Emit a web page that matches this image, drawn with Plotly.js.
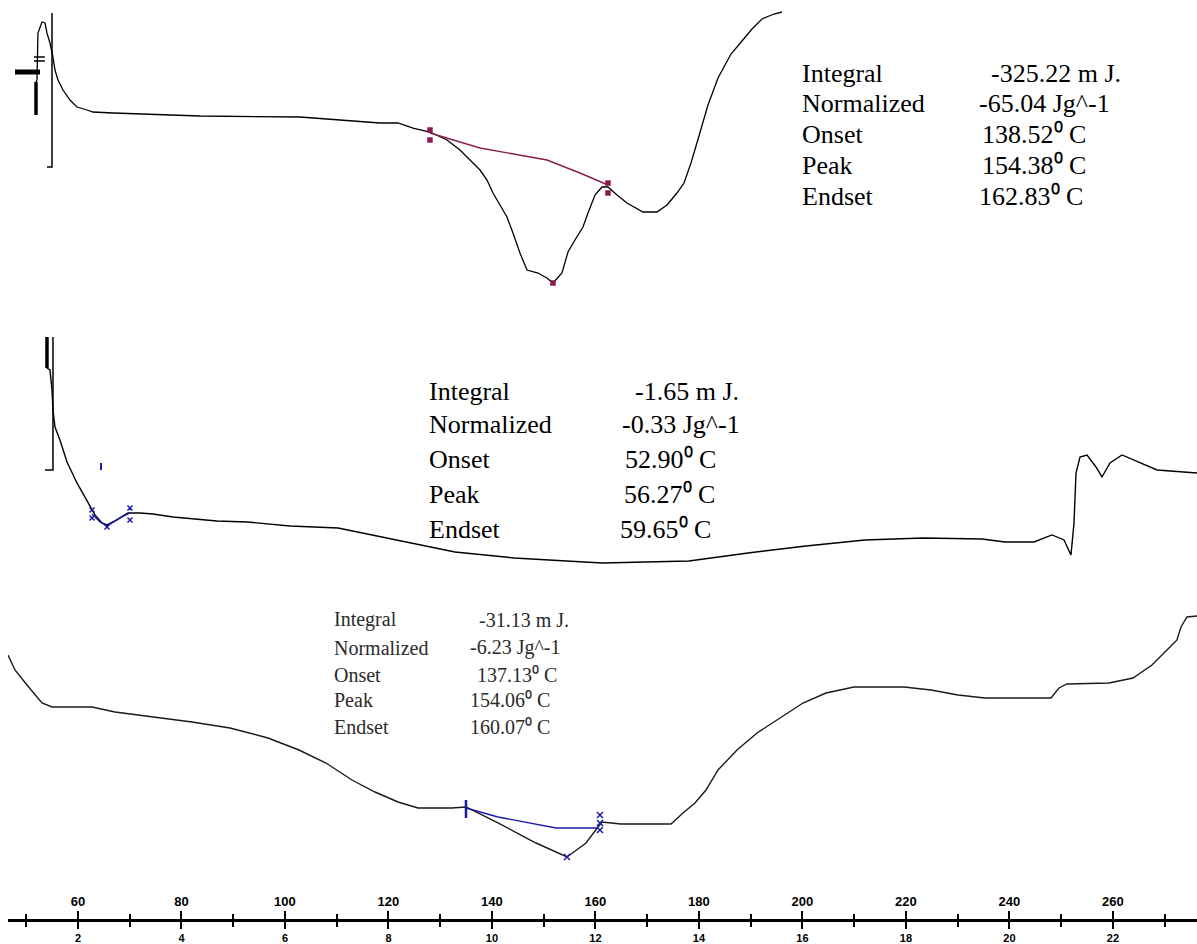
<!DOCTYPE html>
<html>
<head>
<meta charset="utf-8">
<script src="https://cdn.plot.ly/plotly-3.0.1.min.js"></script>
<style>html,body{margin:0;padding:0;background:#fff;}#chart{width:1197px;height:944px;}</style>
</head>
<body>
<div id="chart"></div>
<script>
// ---- Axis ticks ----
const tempTicks = [60, 80, 100, 120, 140, 160, 180, 200, 220, 240, 260];
const tempTickText = ["60", "80", "100", "120", "140", "160", "180", "200", "220", "240", "260"];
const timeTickText = ["2", "4", "6", "8", "10", "12", "14", "16", "18", "20", "22"];

// ---- Top thermogram (temperature °C, heat flow arb. units) ----
const topTemp = [51.89, 51.89, 52.08, 52.27, 53.05, 53.63, 54.01, 54.59, 55.17, 55.56, 56.14, 57.10, 58.46, 59.81, 61.74, 62.90, 66.77, 79.71, 83.58, 102.90, 118.36, 121.84, 124.74, 128.02, 131.31, 133.82, 135.75, 137.69, 139.04, 140.20, 141.55, 142.90, 144.06, 145.41, 146.77, 148.89, 150.63, 151.79, 153.53, 154.69, 156.04, 157.59, 158.56, 159.91, 161.26, 162.42, 164.16, 166.09, 169.18, 171.89, 173.82, 175.75, 177.11, 178.46, 180.00, 181.74, 183.68, 186.19, 188.31, 190.25, 192.18, 194.50, 196.04];
const topHeat = [18.5, 21.8, 22.0, 26.7, 27.8, 27.7, 26.7, 25.7, 24.3, 23.0, 22.0, 21.0, 20.0, 19.3, 19.0, 18.8, 18.7, 18.5, 18.4, 18.3, 17.7, 17.7, 17.2, 16.8, 16.0, 15.0, 14.0, 13.0, 12.0, 10.7, 9.5, 8.3, 6.7, 4.7, 3.0, 2.7, 2.2, 1.7, 2.7, 4.8, 6.0, 7.3, 8.7, 10.5, 11.3, 11.3, 10.5, 9.7, 8.8, 8.8, 9.5, 10.7, 11.7, 13.7, 16.4, 19.5, 22.2, 24.6, 25.9, 27.1, 28.1, 28.6, 28.8];
const topBaseTemp = [128.02, 137.69, 150.63, 157.01, 162.42];
const topBaseHeat = [16.7, 15.2, 14.0, 12.7, 11.5];
const topMarkTemp = [128.02, 128.02, 162.42, 162.42, 151.79];
const topMarkHeat = [17.0, 16.0, 11.7, 10.7, 1.7];
// left-side frame pieces of the top trace
const topFrameTemp = [54.98, 54.98, 54.01];
const topFrameHeat = [28.7, 13.3, 13.3];
const topBarTemp = [51.89, 51.89];
const topBarHeat = [21.8, 18.5];
const topHBarTemp = [47.83, 52.66];
const topHBarHeat = [22.8, 22.8];
const topEqTemp = [51.5, 53.6, null, 51.5, 53.6];
const topEqHeat = [24.3, 24.3, null, 23.9, 23.9];

// ---- Middle thermogram ----
const midTemp = [54.01, 54.01, 54.59, 54.98, 55.17, 55.56, 56.52, 57.88, 59.81, 61.74, 63.29, 64.64, 65.61, 67.15, 68.51, 69.66, 71.98, 74.50, 78.36, 82.23, 86.86, 92.66, 100.97, 110.25, 121.65, 132.85, 144.26, 161.26, 178.07, 189.47, 200.68, 212.08, 223.29, 234.69, 239.14, 244.74, 248.22, 250.54, 251.89, 252.47, 252.86, 253.63, 254.98, 256.72, 257.88, 259.43, 261.75, 265.22, 268.51, 276.24];
const midHeat = [24.3, 21.2, 21.0, 19.0, 17.0, 15.3, 14.0, 11.8, 9.7, 8.0, 6.5, 5.7, 5.5, 5.9, 6.3, 6.7, 6.7, 6.6, 6.3, 6.1, 5.9, 5.8, 5.4, 5.2, 4.0, 2.8, 2.2, 1.7, 1.9, 2.7, 3.4, 4.0, 4.2, 4.1, 3.8, 3.8, 4.5, 4.0, 2.5, 5.7, 10.7, 12.3, 12.5, 11.3, 10.3, 11.7, 12.5, 11.7, 11.0, 10.7];
const midFrameTemp = [55.17, 55.17, 53.63];
const midFrameHeat = [24.3, 11.0, 11.0];
const midBarTemp = [54.01, 54.01];
const midBarHeat = [24.3, 21.2];
const midBaseTemp = [62.71, 64.26, 65.61, 67.15, 68.51, 70.05];
const midBaseHeat = [6.6, 5.8, 5.4, 5.9, 6.3, 6.7];
const midMarkTemp = [62.71, 62.71, 65.61, 70.05, 70.05];
const midMarkHeat = [7.0, 6.2, 5.3, 7.2, 6.0];
const midTickTemp = [64.45, 64.45];
const midTickHeat = [11.7, 11.0];

// ---- Bottom thermogram ----
const botTemp = [46.48, 47.83, 50.15, 53.05, 54.98, 62.71, 67.15, 74.50, 82.03, 89.38, 96.72, 102.71, 107.93, 112.95, 117.40, 121.84, 125.70, 132.27, 134.98, 141.16, 148.51, 154.50, 158.17, 160.49, 161.26, 164.93, 174.60, 176.91, 179.23, 181.36, 183.68, 187.35, 191.22, 195.66, 200.10, 204.55, 209.96, 219.62, 224.84, 230.05, 235.27, 248.03, 249.57, 251.12, 259.23, 263.87, 267.54, 270.44, 272.37, 273.14, 274.30, 276.24];
const botHeat = [26.5, 25.0, 23.5, 21.7, 21.3, 21.3, 20.8, 20.3, 19.8, 19.2, 18.2, 17.0, 15.7, 14.0, 12.8, 11.8, 11.2, 11.2, 11.3, 9.7, 7.7, 6.3, 7.7, 9.3, 9.8, 9.6, 9.6, 10.7, 11.7, 13.0, 15.0, 17.0, 18.7, 20.2, 21.7, 22.7, 23.3, 23.3, 23.0, 22.5, 22.2, 22.2, 23.2, 23.6, 23.7, 24.2, 25.5, 27.0, 28.0, 29.3, 30.3, 30.4];
const botBaseTemp = [134.98, 141.16, 152.37, 160.49];
const botBaseHeat = [11.2, 10.3, 9.2, 9.2];
const botTickTemp = [134.98, 134.98];
const botTickHeat = [12.0, 10.2];
const botMarkTemp = [160.87, 160.87, 160.87, 154.5];
const botMarkHeat = [10.5, 9.7, 9.0, 6.3];

// ---- Result tables ----
const rowLabels = ["Integral", "Normalized", "Onset", "Peak", "Endset"];
const topValues = ["-325.22 m J.", "-65.04 Jg^-1", "138.52\u2070 C", "154.38\u2070 C", "162.83\u2070 C"];
const midValues = ["-1.65 m J.", "-0.33 Jg^-1", "52.90\u2070 C", "56.27\u2070 C", "59.65\u2070 C"];
const botValues = ["-31.13 m J.", "-6.23 Jg^-1", "137.13\u2070 C", "154.06\u2070 C", "160.07\u2070 C"];

const BLACK = "#000000", PURPLE = "#8b1c4f", BLUE = "#1a1aa6";

function line(x, y, yaxis, color, width) {
  return {x: x, y: y, xaxis: "x", yaxis: yaxis, type: "scatter", mode: "lines",
          line: {color: color, width: width}, hoverinfo: "skip", showlegend: false, connectgaps: false};
}
function marks(x, y, yaxis, color, symbol, size) {
  return {x: x, y: y, xaxis: "x", yaxis: yaxis, type: "scatter", mode: "markers",
          marker: {color: color, symbol: symbol, size: size, line: {color: color, width: 1.5}},
          hoverinfo: "skip", showlegend: false};
}

const traces = [
  line(topTemp, topHeat, "y", BLACK, 1.3),
  line(topFrameTemp, topFrameHeat, "y", BLACK, 1.5),
  line(topBarTemp, topBarHeat, "y", BLACK, 3.5),
  line(topHBarTemp, topHBarHeat, "y", BLACK, 5),
  line(topEqTemp, topEqHeat, "y", BLACK, 1.5),
  line(topBaseTemp, topBaseHeat, "y", PURPLE, 1.4),
  marks(topMarkTemp, topMarkHeat, "y", PURPLE, "square", 4),

  line(midTemp, midHeat, "y2", BLACK, 1.4),
  line(midFrameTemp, midFrameHeat, "y2", BLACK, 1.5),
  line(midBarTemp, midBarHeat, "y2", BLACK, 3.5),
  line(midBaseTemp, midBaseHeat, "y2", BLUE, 1.4),
  marks(midMarkTemp, midMarkHeat, "y2", BLUE, "x-thin", 5),
  line(midTickTemp, midTickHeat, "y2", BLUE, 2),

  line(botTemp, botHeat, "y3", "#1a1a1a", 1.4),
  line(botBaseTemp, botBaseHeat, "y3", BLUE, 1.4),
  line(botTickTemp, botTickHeat, "y3", BLUE, 2.5),
  marks(botMarkTemp, botMarkHeat, "y3", BLUE, "x-thin", 6),

  // carrier for the temperature axis
  {x: tempTicks, y: tempTicks.map(() => null), xaxis: "x2", yaxis: "y3", type: "scatter",
   mode: "lines", hoverinfo: "skip", showlegend: false}
];

const annotations = [];
function table(values, yref, heats, labelX, valueXs, size, color) {
  rowLabels.forEach((lab, i) => {
    annotations.push({x: labelX, y: heats[i], xref: "x", yref: yref, text: lab, showarrow: false,
      xanchor: "left", yanchor: "middle", font: {family: "Liberation Serif, Times New Roman, serif", size: size, color: color}});
    annotations.push({x: valueXs[i], y: heats[i], xref: "x", yref: yref, text: values[i], showarrow: false,
      xanchor: "left", yanchor: "middle", font: {family: "Liberation Serif, Times New Roman, serif", size: size, color: color}});
  });
}
table(topValues, "y", [22.7, 19.7, 16.6, 13.5, 10.4], 199.5, [236.0, 233.7, 234.3, 234.3, 233.7], 26, BLACK);
table(midValues, "y2", [18.8, 15.5, 12.0, 8.5, 5.0], 127.4, [167.2, 164.7, 165.3, 165.1, 164.4], 26, BLACK);
table(botValues, "y3", [30.0, 27.2, 24.5, 22.0, 19.3], 109.1, [137.1, 135.4, 136.7, 135.4, 135.4], 20, "#2a2a2a");

const xrange = [46.48, 276.24];
const layout = {
  width: 1197, height: 944,
  margin: {l: 8, r: 0, t: 0, b: 24, pad: 0},
  paper_bgcolor: "#ffffff", plot_bgcolor: "#ffffff",
  showlegend: false,
  xaxis: {
    range: xrange, anchor: "y3", showgrid: false, zeroline: false,
    showline: true, linecolor: BLACK, linewidth: 2,
    tickmode: "array", tickvals: tempTicks, ticktext: timeTickText,
    ticks: "outside", ticklen: 7, tickwidth: 2, tickcolor: BLACK,
    ticklabelstandoff: 0,
    tickfont: {family: "Liberation Sans, Arial, sans-serif", size: 11, color: BLACK, weight: "bold"},
    minor: {tickmode: "linear", tick0: 50, dtick: 10, ticks: "outside", ticklen: 5, tickwidth: 2, tickcolor: BLACK},
    fixedrange: true
  },
  xaxis2: {
    range: xrange, overlaying: "x", anchor: "free", position: 0, side: "top",
    showgrid: false, zeroline: false,
    showline: true, linecolor: BLACK, linewidth: 2,
    tickmode: "array", tickvals: tempTicks, ticktext: tempTickText,
    ticks: "outside", ticklen: 8, tickwidth: 2, tickcolor: BLACK,
    tickfont: {family: "Liberation Sans, Arial, sans-serif", size: 13, color: BLACK, weight: "bold"},
    minor: {tickmode: "linear", tick0: 50, dtick: 10, ticks: "outside", ticklen: 5, tickwidth: 2, tickcolor: BLACK},
    fixedrange: true
  },
  yaxis: {domain: [0.6739, 1], range: [0, 30], visible: false, fixedrange: true},
  yaxis2: {domain: [0.3696, 0.6522], range: [0, 26], visible: false, fixedrange: true},
  yaxis3: {domain: [0, 0.3587], range: [0, 33], visible: false, fixedrange: true},
  annotations: annotations
};

Plotly.newPlot("chart", traces, layout, {displayModeBar: false, staticPlot: true});
</script>
</body>
</html>
